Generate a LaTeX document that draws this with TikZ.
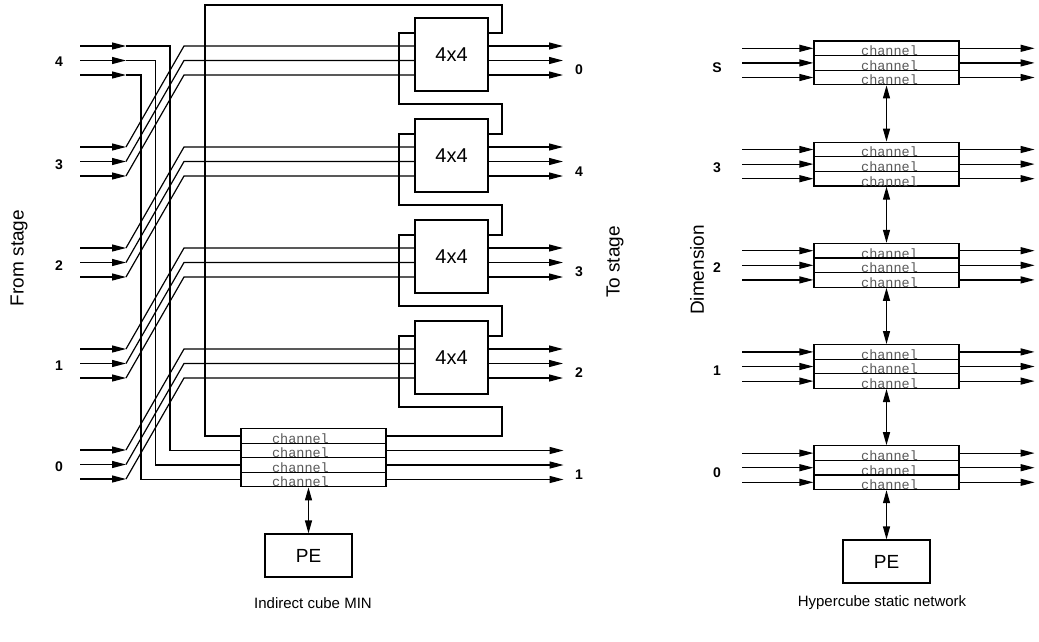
\documentclass[tikz,border=0pt]{standalone}
\usepackage{fontspec}
\setmainfont{Liberation Sans}
\newfontfamily\chanfont{Liberation Mono}
\usetikzlibrary{arrows.meta}

\tikzset{
  wire/.style={line width=1.2pt},
  arr/.style={wire,-{Triangle[length=14pt,width=7pt]}},
  dbl/.style={wire,{Triangle[length=13pt,width=7pt]}-{Triangle[length=13pt,width=7pt]}},
  swbox/.style={draw,line width=1.2pt,minimum width=73pt,minimum height=73pt,inner sep=0pt,font=\fontsize{20}{22}\selectfont},
  chanrow/.style={draw,line width=1.2pt,minimum width=145pt,minimum height=14.6pt,inner sep=0pt},
  chantxt/.style={anchor=base,inner sep=0pt,text=black!65,font=\chanfont\fontsize{13.5}{14}\selectfont},
  pebox/.style={draw,line width=1.2pt,minimum width=87pt,minimum height=43pt,font=\fontsize{19}{21}\selectfont},
  num/.style={font=\fontsize{14}{16}\selectfont\bfseries},
  sidelbl/.style={rotate=90,font=\fontsize{19}{21}\selectfont},
  capt/.style={font=\fontsize{15}{17}\selectfont}
}

\begin{document}
\begin{tikzpicture}[x=1pt,y=-1pt]
\useasboundingbox (0,0) rectangle (1039,641);

% indirect cube MIN
\foreach \i in {1,...,4} {
  \node[swbox] (sw\i) at (451.5,{54.5+101*(\i-1)}) {4x4};
  \coordinate (l\i) at (415,{33+101*(\i-1)});
  \coordinate (r\i) at (488,{33+101*(\i-1)});
  \foreach \r in {0,1,2} {
    \coordinate (a\i\r) at (415,{46+101*(\i-1)+14.5*\r});
    \coordinate (b\i\r) at (488,{46+101*(\i-1)+14.5*\r});
    \coordinate (o\i\r) at (563,{46+101*(\i-1)+14.5*\r});
    \draw[arr] (b\i\r) -- (o\i\r);
  }
}
\foreach \n in {1,...,4} {
  \node[chanrow] (ch\n) at (313.5,{436+14.5*(\n-1)}) {};
  \node[chantxt] (cht\n) at ([xshift=-13pt,yshift=0.5pt]ch\n.south) {channel};
}
\foreach \j in {0,...,4}
  \foreach \r in {0,1,2} {
    \coordinate (s\j\r) at (80,{46+101*\j+14.5*\r});
    \coordinate (t\j\r) at (126,{46+101*\j+14.5*\r});
    \draw[arr] (s\j\r) -- (t\j\r);
  }
\foreach \j in {1,...,4}
  \foreach \r in {0,1,2}
    \draw[wire] (t\j\r) -- ++(58,-101) -- (a\j\r);
\foreach \r/\n/\xx in {0/2/170,1/3/155.5,2/4/141}
  \draw[wire] (t0\r) -- (\xx,{46+14.5*\r}) |- (ch\n.west);

\draw[wire] (ch1.west) -| (205,5) -| ([xshift=14pt]r1) -- (r1);
\foreach \i/\k in {1/2,2/3,3/4}
  \draw[wire] (l\i) -- ++(-16,0) -- ++(0,71) -- ++(103,0) |- (r\k);
\draw[wire] (l4) -- ++(-16,0) -- ++(0,71) -- ++(103,0) |- (ch1.east);
\foreach \n in {2,3,4}
  \draw[arr] (ch\n.east) -- ++(177,0);

\node[pebox] (pe1) at (308.5,555.5) {PE};
\draw[dbl] (ch4.south -| pe1) -- (pe1.north);

\foreach \y/\lbl in {62/4,165/3,266/2,366/1,467/0}
  \node[num] (in\lbl) at (59,\y) {\lbl};
\foreach \y/\lbl in {70/0,172/4,272/3,373/2,475/1}
  \node[num] (out\lbl) at (579,\y) {\lbl};
\node[sidelbl] (from) at (19,258) {From stage};
\node[sidelbl] (to) at (615,262) {To stage};
\node[capt] (min) at (313,603) {Indirect cube MIN};

% hypercube
\foreach \k in {0,...,4}
  \foreach \r in {0,1,2} {
    \node[chanrow] (h\k\r) at (886.5,{48.3+101.2*\k+14.6*\r}) {};
    \node[chantxt] (ht\k\r) at ([xshift=3pt,yshift=0.5pt]h\k\r.south) {channel};
    \draw[arr] ([xshift=-71pt]h\k\r.west) -- (h\k\r.west);
    \draw[arr] (h\k\r.east) -- ++(75,0);
  }
\foreach \k/\m in {0/1,1/2,2/3,3/4}
  \draw[dbl] (h\k2.south) -- (h\m0.north);
\node[pebox] (pe2) at (886.5,561.5) {PE};
\draw[dbl] (h42.south) -- (pe2.north);

\foreach \y/\lbl in {68/S,168/3,268/2,371/1,473/0}
  \node[num] (dim\lbl) at (717,\y) {\lbl};
\node[sidelbl] (dimlbl) at (697,270) {Dimension};
\node[capt] (hyp) at (882,603) {Hypercube static network};
\end{tikzpicture}
\end{document}
